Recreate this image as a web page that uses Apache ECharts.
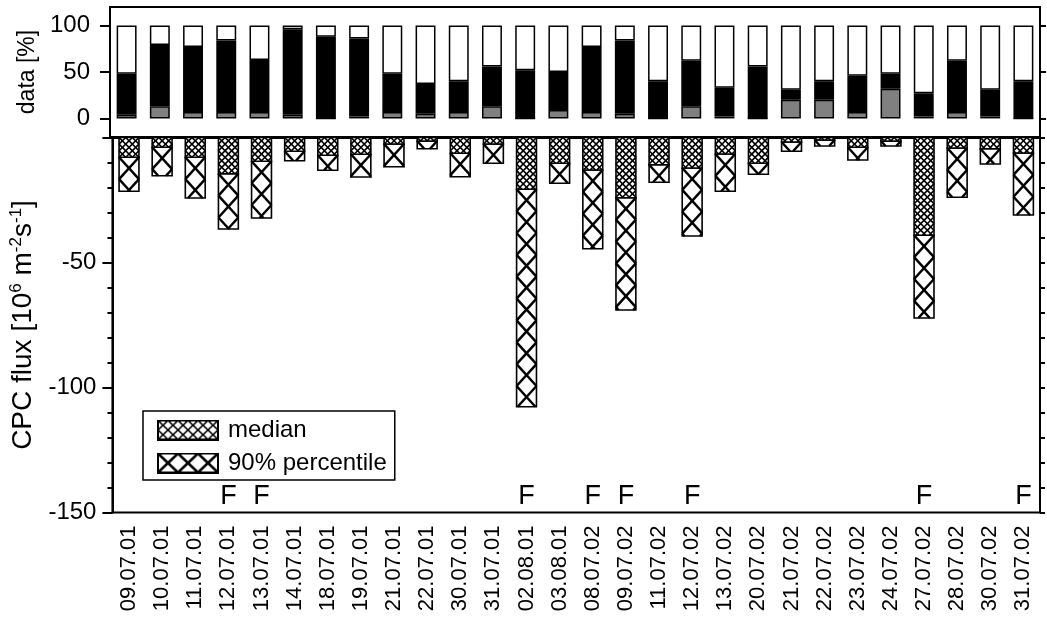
<!DOCTYPE html>
<html>
<head>
<meta charset="utf-8">
<script src="https://cdn.jsdelivr.net/npm/echarts@6/dist/echarts.min.js"></script>
<style>html,body{margin:0;padding:0;background:#fff}#c{width:1047px;height:617px}</style>
</head>
<body>
<div id="c"></div>
<script>
// ---------- data ----------
const categories = ['09.07.01','10.07.01','11.07.01','12.07.01','13.07.01','14.07.01','18.07.01','19.07.01','21.07.01','22.07.01','30.07.01','31.07.01','02.08.01','03.08.01','08.07.02','09.07.02','11.07.02','12.07.02','13.07.02','20.07.02','21.07.02','22.07.02','23.07.02','24.07.02','27.07.02','28.07.02','30.07.02','31.07.02'];
// top panel: stacked segments [%]
const grayPart  = [4,13,7,7,7,4,0,2,7,5,7,13,0,9,7,5,0,13,2,0,20,20,7,32,2,7,2,0];
const blackPart = [44,66,70,77,56,92,88,84,41,32,33,43,52,41,70,79,40,49,31,56,11,20,39,16,25,55,29,40];
const whitePart = [52,21,23,16,37,4,12,14,52,63,60,44,48,50,23,16,60,38,67,44,69,60,54,52,73,38,69,60];
// bottom panel: CPC flux [10^6 m^-2 s^-1]
const medianFlux = [-7.9,-3.9,-7.9,-14.5,-9.5,-5.5,-7.1,-6.7,-2.6,-1.4,-6.3,-2.6,-20.7,-10.3,-13,-24.1,-10.9,-12.2,-6.6,-10.3,-1.8,-1,-3.9,-1.4,-39.1,-4.2,-4.5,-6.2];
const p90Flux    = [-21.5,-15.3,-24.2,-36.6,-32.2,-9.3,-13.1,-15.8,-11.7,-4.5,-15.7,-10.3,-107.7,-18.3,-44.5,-69,-17.9,-39.4,-21.5,-14.7,-5.5,-3.4,-9,-3.4,-72.2,-23.9,-10.6,-31];
// days marked "F"
const fDays = ['12.07.01','13.07.01','02.08.01','08.07.02','09.07.02','12.07.02','27.07.02','31.07.02'];
const topTicks = [0,50,100];

// ---------- styling helpers ----------
const FONT = 'Liberation Sans, Arial, Helvetica, sans-serif';
const F_LEVEL = -143.5;
const BAR_FRAC = 0.6;

// hatch segments inside a rectangle: nAcross cells across, cellH cell height
function hatch(x0, x1, y0, y1, nAcross, cellH) {
  const segs = [];
  const w = x1 - x0, H = y1 - y0;
  if (w <= 0 || H <= 0) return segs;
  const cw = w / nAcross, m = cellH / cw;
  const kMin = -Math.ceil(w * m / cellH) - 1, kMax = Math.ceil(H / cellH) + 1;
  for (let k = kMin; k <= kMax; k++) {
    const ys = y0 + k * cellH;
    const tmin = Math.max(0, (y0 - ys) / m), tmax = Math.min(w, (y1 - ys) / m);
    if (tmax > tmin + 0.01) {
      segs.push([x0 + tmin, ys + m * tmin, x0 + tmax, ys + m * tmax]);
      segs.push([x1 - tmin, ys + m * tmin, x1 - tmax, ys + m * tmax]);
    }
  }
  return segs;
}

function makeIcon(nAcross, cellH, lw) {
  const cv = document.createElement('canvas');
  cv.width = 62; cv.height = 21;
  const g = cv.getContext('2d');
  g.fillStyle = '#fff'; g.fillRect(0, 0, 62, 21);
  g.strokeStyle = '#000'; g.lineWidth = lw; g.lineCap = 'butt';
  hatch(1, 61, 1, 20, nAcross, cellH).forEach(s => {
    g.beginPath(); g.moveTo(s[0], s[1]); g.lineTo(s[2], s[3]); g.stroke();
  });
  g.lineWidth = 2; g.strokeRect(1, 1, 60, 19);
  return 'image://' + cv.toDataURL();
}

function barGroup(params, api, vTop, vBot, nAcross, cellRatio, lw) {
  if (!api || typeof api.coord !== 'function') return null;
  const i = api.value(0);
  const pT = api.coord([i, vTop]);
  const pB = api.coord([i, vBot]);
  const bw = api.size([1, 0])[0] * BAR_FRAC;
  const x0 = pT[0] - bw / 2, x1 = pT[0] + bw / 2;
  const y0 = pT[1], y1 = pB[1];
  const children = [{
    type: 'rect',
    shape: { x: x0, y: y0, width: bw, height: Math.max(0, y1 - y0) },
    style: { fill: '#fff', stroke: 'none' }
  }];
  hatch(x0, x1, y0, y1, nAcross, (bw / nAcross) * cellRatio).forEach(s => {
    children.push({ type: 'line', shape: { x1: s[0], y1: s[1], x2: s[2], y2: s[3] }, style: { stroke: '#000', lineWidth: lw } });
  });
  children.push({
    type: 'rect',
    shape: { x: x0, y: y0, width: bw, height: Math.max(0, y1 - y0) },
    style: { fill: 'none', stroke: '#000', lineWidth: 1.6 }
  });
  return { type: 'group', children: children };
}

const medIcon = makeIcon(6, 9.5, 1.7);
const p90Icon = makeIcon(3, 19, 2.5);

const chart = echarts.init(document.getElementById('c'), null, { renderer: 'canvas' });
const axisBlack = { color: '#000', width: 2 };

const option = {
  animation: false,
  backgroundColor: '#fff',
  textStyle: { fontFamily: FONT, color: '#000' },
  grid: [
    { left: 110, right: 7, top: 7, height: 130, show: true, borderColor: '#000', borderWidth: 2 },
    { left: 110, right: 7, top: 137.5, height: 375, show: true, borderColor: '#000', borderWidth: 2 }
  ],
  legend: {
    orient: 'vertical', left: 143, top: 411,
    itemWidth: 62, itemHeight: 21, itemGap: 9,
    padding: [7, 8, 5, 14],
    borderColor: '#000', borderWidth: 1.5,
    textStyle: { fontSize: 24, color: '#000', fontFamily: FONT, padding: [0, 0, 0, 4] },
    data: [{ name: 'median', icon: medIcon }, { name: '90% percentile', icon: p90Icon }],
    selectedMode: false
  },
  xAxis: [
    { gridIndex: 0, type: 'category', data: categories, axisLabel: { show: false }, axisTick: { show: false }, axisLine: { show: false } },
    { gridIndex: 1, type: 'category', data: categories,
      axisLine: { lineStyle: axisBlack },
      axisTick: { alignWithLabel: true, length: 6, lineStyle: axisBlack },
      axisLabel: { rotate: 90, fontSize: 22, color: '#000', margin: 13, fontFamily: FONT } }
  ],
  yAxis: [
    { gridIndex: 0, type: 'value', min: -20, max: 120,
      name: 'data [%]', nameLocation: 'middle', nameGap: 70,
      nameTextStyle: { fontSize: 23, color: '#000', fontFamily: FONT },
      axisLine: { show: true, lineStyle: axisBlack },
      axisTick: { show: true, customValues: topTicks, length: 10, lineStyle: axisBlack },
      axisLabel: { customValues: topTicks, fontSize: 24, color: '#000', margin: 20, fontFamily: FONT },
      splitLine: { show: false } },
    { gridIndex: 0, type: 'value', min: -20, max: 120, position: 'right',
      axisLine: { show: true, lineStyle: axisBlack },
      axisTick: { show: true, customValues: topTicks, length: 6, lineStyle: axisBlack },
      axisLabel: { show: false }, splitLine: { show: false } },
    { gridIndex: 1, type: 'value', min: -150, max: 0, interval: 50,
      name: '{n|CPC flux [10}{s|6}{n| m}{s|-2}{n|s}{s|-1}{n|]}', nameLocation: 'middle', nameGap: 60,
      nameTextStyle: { fontSize: 28, color: '#000', fontFamily: FONT,
        rich: { n: { fontSize: 28, fontFamily: FONT, color: '#000' }, s: { fontSize: 17, fontFamily: FONT, color: '#000', padding: [0, 0, 14, 0] } } },
      axisLine: { show: true, lineStyle: axisBlack },
      axisTick: { show: true, length: 10, lineStyle: axisBlack },
      minorTick: { show: true, splitNumber: 5, length: 5, lineStyle: { color: '#000', width: 2 } },
      axisLabel: { fontSize: 24, color: '#000', margin: 16, fontFamily: FONT, formatter: v => (v === 0 ? '' : String(v)) },
      splitLine: { show: false }, minorSplitLine: { show: false } },
    { gridIndex: 1, type: 'value', min: -150, max: 0, interval: 10, position: 'right',
      axisLine: { show: true, lineStyle: axisBlack },
      axisTick: { show: true, length: 5, lineStyle: axisBlack },
      axisLabel: { show: false }, splitLine: { show: false } }
  ],
  series: [
    { type: 'bar', name: 'gray', stack: 'd', xAxisIndex: 0, yAxisIndex: 0, barWidth: '60%', data: grayPart,
      itemStyle: { color: '#808080', borderColor: '#000', borderWidth: 1.5 } },
    { type: 'bar', name: 'black', stack: 'd', xAxisIndex: 0, yAxisIndex: 0, barWidth: '60%', data: blackPart,
      itemStyle: { color: '#000', borderColor: '#000', borderWidth: 1.5 } },
    { type: 'bar', name: 'white', stack: 'd', xAxisIndex: 0, yAxisIndex: 0, barWidth: '60%', data: whitePart,
      itemStyle: { color: '#fff', borderColor: '#000', borderWidth: 1.5 } },
    { type: 'custom', name: '90% percentile', coordinateSystem: 'cartesian2d', xAxisIndex: 1, yAxisIndex: 2,
      data: categories.map((c, i) => [i, p90Flux[i], medianFlux[i]]),
      encode: { x: 0, y: [1, 2] },
      renderItem: function (params, api) { return barGroup(params, api, api.value(2), api.value(1), 1, 1.1, 2.5); } },
    { type: 'custom', name: 'median', coordinateSystem: 'cartesian2d', xAxisIndex: 1, yAxisIndex: 2,
      data: categories.map((c, i) => [i, medianFlux[i]]),
      encode: { x: 0, y: 1 },
      renderItem: function (params, api) { return barGroup(params, api, 0, api.value(1), 3, 1.0, 1.7); } },
    { type: 'scatter', name: 'F', xAxisIndex: 1, yAxisIndex: 2, silent: true,
      symbolSize: 1, itemStyle: { color: 'rgba(0,0,0,0)' },
      data: fDays.map(d => [d, F_LEVEL]),
      label: { show: true, position: 'inside', formatter: 'F', fontSize: 27, color: '#000',
               textBorderWidth: 0, textBorderColor: 'transparent', opacity: 1, fontFamily: FONT } }
  ]
};
chart.setOption(option);
</script>
</body>
</html>
